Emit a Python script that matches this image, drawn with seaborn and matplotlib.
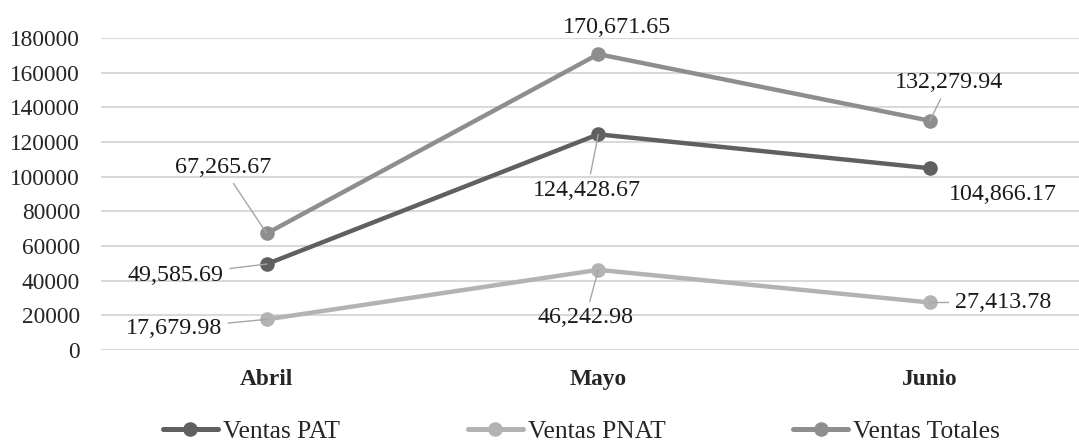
import matplotlib
matplotlib.use("Agg")
import matplotlib.pyplot as plt
import seaborn as sns
import pandas as pd

meses = ["Abril", "Mayo", "Junio"]
ventas_pat = [49585.69, 124428.67, 104866.17]
ventas_pnat = [17679.98, 46242.98, 27413.78]
ventas_totales = [67265.67, 170671.65, 132279.94]
series = ["Ventas PAT", "Ventas PNAT", "Ventas Totales"]
yticks = [0, 20000, 40000, 60000, 80000, 100000, 120000, 140000, 160000, 180000]

colors = {"Ventas PAT": "#606060", "Ventas PNAT": "#b3b3b3", "Ventas Totales": "#8e8e8e"}

df = pd.DataFrame({
    "Mes": meses * 3,
    "x": [0, 1, 2] * 3,
    "Ventas": ventas_pat + ventas_pnat + ventas_totales,
    "Serie": [s for s in series for _ in meses],
})

sns.set_style("white")
plt.rcParams["font.family"] = ["Liberation Serif", "DejaVu Serif"]
FS = 16.8
FS_LAB = 17.3
FS_LEG = 18.4

fig = plt.figure(figsize=(10.79, 4.46), dpi=100)
ax = fig.add_axes([101/1079, (446-350)/446, 978/1079, 312/446])

sns.lineplot(data=df, x="x", y="Ventas", hue="Serie", hue_order=series,
             palette=colors, marker="o", markersize=10.5, linewidth=3.2,
             markeredgewidth=0, ax=ax, legend=False, zorder=3)

ax.set_xlim(-0.5, 2.45)
ax.set_ylim(0, 180000)
ax.set_yticks(yticks)
ax.set_yticklabels([str(v) for v in yticks], fontsize=FS)
ax.set_xticks([0, 1, 2])
ax.set_xticklabels(meses, fontsize=FS, fontweight="bold")
ax.tick_params(axis="y", length=0, pad=15)
ax.tick_params(axis="x", length=0, pad=14)
ax.set_xlabel("")
ax.set_ylabel("")
ax.grid(axis="y", color="#d9d9d9", linewidth=1.5, zorder=0)
ax.grid(axis="x", visible=False)
for sp in ax.spines.values():
    sp.set_visible(False)

# label offsets in pixels (text center relative to point), and whether a leader line is drawn
label_offsets = {
    "Ventas PAT": [(-91, -11, True), (-11, -56, True), (73, -26, False)],
    "Ventas PNAT": [(-93, -9, True), (-13, -48, True), (73, 0, True)],
    "Ventas Totales": [(-44, 66, True), (19, 27, False), (19, 38, True)],
}
vals = {"Ventas PAT": ventas_pat, "Ventas PNAT": ventas_pnat, "Ventas Totales": ventas_totales}
for s in series:
    for i, v in enumerate(vals[s]):
        dx, dy, lead = label_offsets[s][i]
        ap = dict(arrowstyle="-", color="#a6a6a6", lw=1, shrinkA=2, shrinkB=0) if lead else None
        ax.annotate(f"{v:,.2f}", xy=(i, v), xytext=(dx, dy), textcoords="offset pixels",
                    ha="center", va="center", fontsize=FS_LAB, color="#1a1a1a",
                    arrowprops=ap, zorder=5, annotation_clip=False)

from matplotlib.lines import Line2D
handles = [Line2D([0], [0], color=colors[s], lw=3.6, marker="o", markersize=10.5,
                  markeredgewidth=0) for s in series]
fig.legend(handles, series, loc="center", bbox_to_anchor=(0.539, 0.032), ncol=3,
           frameon=False, fontsize=FS_LEG, handlelength=2.15, handletextpad=0.2,
           columnspacing=5.0, borderpad=0)

fig.savefig("out.png", dpi=100)
